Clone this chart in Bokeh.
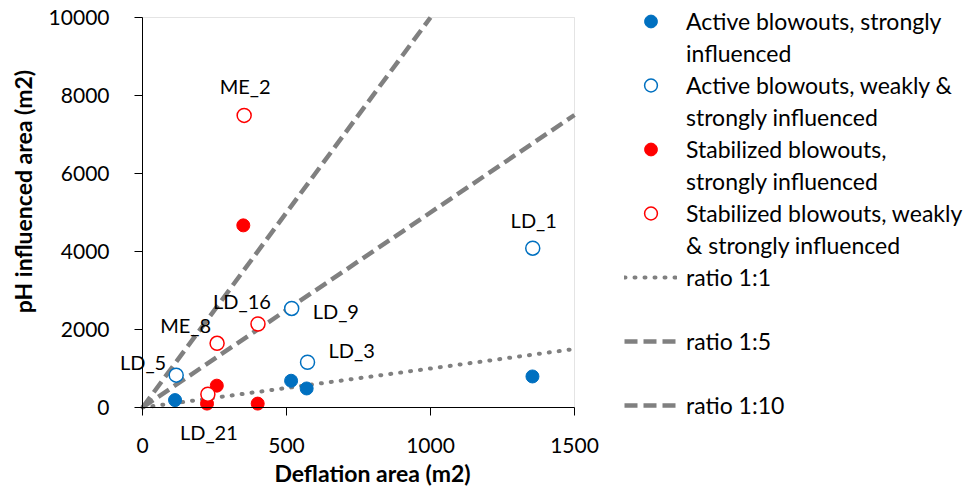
import math
from bokeh.plotting import figure
from bokeh.models import (ColumnDataSource, Range1d, Legend, LegendItem,
                          LabelSet, Label, FixedTicker, LinearAxis,
                          BoxAnnotation)
from bokeh.core.properties import value
from bokeh.embed import file_html
from bokeh.resources import INLINE

# ---------------- data ----------------
act_strong_x = [113, 516, 570, 1354]
act_strong_y = [190, 686, 488, 796]

act_weak_x = [117, 518, 573, 1355]
act_weak_y = [830, 2540, 1160, 4085]
act_weak_names = ["LD_5", "LD_9", "LD_3", "LD_1"]

stab_strong_x = [224, 258, 350, 400]
stab_strong_y = [100, 560, 4670, 100]

stab_weak_x = [227, 259, 353, 401]
stab_weak_y = [340, 1645, 7490, 2140]
stab_weak_names = ["LD_21", "ME_8", "ME_2", "LD_16"]

ratios = [1, 5, 10]
ratio_labels = ["ratio 1:1", "ratio 1:5", "ratio 1:10"]

legend_lines = [
    ["Active blowouts, strongly", "influenced"],
    ["Active blowouts, weakly &", "strongly influenced"],
    ["Stabilized blowouts,", "strongly influenced"],
    ["Stabilized blowouts, weakly", "& strongly influenced"],
]

x_lim = [0, 1500]
y_lim = [0, 10000]
x_ticks = [0, 500, 1000, 1500]
y_ticks = [0, 2000, 4000, 6000, 8000, 10000]

x_title = "Deflation area (m2)"
y_title = "pH influenced area (m2)"

# ---------------- layout / style ----------------
FONT = "Lato"
BLUE = "#0070C0"
RED = "#FF0000"
GRAY = "#808080"

W, H = 964, 488
# pixel box of the data area inside the canvas
BX0, BX1, BY0, BY1 = 142, 574, 17, 407
kx = (BX1 - BX0) / (x_lim[1] - x_lim[0])
ky = (BY1 - BY0) / (y_lim[1] - y_lim[0])
x_start = x_lim[0] - BX0 / kx
x_end = x_start + W / kx
y_start = y_lim[0] - (H - BY1) / ky
y_end = y_start + H / ky


def px_to_x(px):
    return x_start + px / kx


def py_to_y(py):
    return y_start + (H - py) / ky


p = figure(width=W, height=H, output_backend="svg", toolbar_location=None,
           x_range=Range1d(x_start, x_end), y_range=Range1d(y_start, y_end),
           x_axis_type=None, y_axis_type=None,
           min_border=0)
p.background_fill_color = "white"
p.border_fill_color = "white"
p.outline_line_color = None
p.grid.visible = False

# plot-area outline (gray top / right, axes cover left / bottom)
p.add_layout(BoxAnnotation(left=x_lim[0], right=x_lim[1], bottom=y_lim[0],
                           top=y_lim[1], fill_alpha=0, line_color="#A6A6A6",
                           line_width=1, level="underlay"))

xaxis = LinearAxis(fixed_location=y_lim[0], bounds=tuple(x_lim),
                   ticker=FixedTicker(ticks=x_ticks))
yaxis = LinearAxis(fixed_location=x_lim[0], bounds=tuple(y_lim),
                   ticker=FixedTicker(ticks=y_ticks))
for ax in (xaxis, yaxis):
    ax.axis_line_color = "black"
    ax.major_tick_line_color = "black"
    ax.major_tick_out = 8
    ax.major_tick_in = 0
    ax.minor_tick_line_color = None
    ax.major_label_text_font = FONT
    ax.major_label_text_font_size = "21px"
    ax.major_label_text_color = "black"
xaxis.major_label_standoff = 22
yaxis.major_label_standoff = 25
p.add_layout(xaxis, "below")
p.add_layout(yaxis, "left")

# axis titles
title_style = dict(text_font=FONT, text_font_size="23px",
                   text_font_style="bold", text_color="black",
                   text_align="center", text_baseline="middle")
p.add_layout(Label(x=px_to_x(372), y=py_to_y(472), text=x_title,
                   **title_style))
p.add_layout(Label(x=px_to_x(22), y=py_to_y(191), text=y_title,
                   angle=math.pi / 2, **title_style))

# ratio lines (clipped to the plot box)
line_styles = [dict(line_dash="1 9", line_width=4, line_cap="round"),
               dict(line_dash="13 6", line_width=4.5, line_cap="butt"),
               dict(line_dash="13 6", line_width=4.5, line_cap="butt")]
ratio_renderers = []
for r, st in zip(ratios, line_styles):
    xe = min(x_lim[1], y_lim[1] / r)
    ratio_renderers.append(p.line([x_lim[0], xe], [r * x_lim[0], r * xe],
                                  line_color=GRAY, **st))

# points
r_as = p.scatter(act_strong_x, act_strong_y, size=13, fill_color=BLUE,
                 line_color=BLUE, line_width=1)
r_aw = p.scatter(act_weak_x, act_weak_y, size=14, fill_color="white",
                 line_color=BLUE, line_width=1.5)
r_ss = p.scatter(stab_strong_x, stab_strong_y, size=13, fill_color=RED,
                 line_color=RED, line_width=1)
r_sw = p.scatter(stab_weak_x, stab_weak_y, size=14, fill_color="white",
                 line_color=RED, line_width=1.5)
r_blank = p.scatter([], [], size=1, fill_alpha=0, line_alpha=0)

# point labels
lab_offsets = {
    "LD_5": (-10, 13, "right"),
    "LD_9": (21, -3, "left"),
    "LD_3": (21, 12, "left"),
    "LD_1": (1, 28, "center"),
    "LD_21": (1, -38, "center"),
    "ME_8": (-6, 18, "right"),
    "ME_2": (1, 29, "center"),
    "LD_16": (-16, 23, "center"),
}
names = act_weak_names + stab_weak_names
lab_src = ColumnDataSource(dict(
    x=act_weak_x + stab_weak_x, y=act_weak_y + stab_weak_y, name=names,
    dx=[lab_offsets[n][0] for n in names],
    dy=[lab_offsets[n][1] for n in names],
    align=[lab_offsets[n][2] for n in names]))
labels = LabelSet(x="x", y="y", text="name", source=lab_src,
                  x_offset="dx", y_offset="dy", text_align="align",
                  text_baseline="middle", text_font=value(FONT),
                  text_font_size="20px", text_color="black")
p.add_layout(labels)

# legend: one row per text line
items = []
for rend, lines in zip([r_as, r_aw, r_ss, r_sw], legend_lines):
    items.append(LegendItem(label=lines[0], renderers=[rend]))
    items.append(LegendItem(label=lines[1], renderers=[r_blank]))
for i, (lab, rr) in enumerate(zip(ratio_labels, ratio_renderers)):
    if i > 0:
        items.append(LegendItem(label=" ", renderers=[r_blank]))
    items.append(LegendItem(label=lab, renderers=[rr]))

leg = Legend(items=items, location=(624, 67), spacing=0,
             label_text_font=FONT, label_text_font_size="23px",
             label_text_color="black", label_text_baseline="middle",
             glyph_width=53, glyph_height=32, label_standoff=9,
             label_height=32, padding=0, margin=0,
             border_line_alpha=0, background_fill_alpha=0)
p.add_layout(leg)

open("out.html", "w").write(file_html(p, INLINE))
